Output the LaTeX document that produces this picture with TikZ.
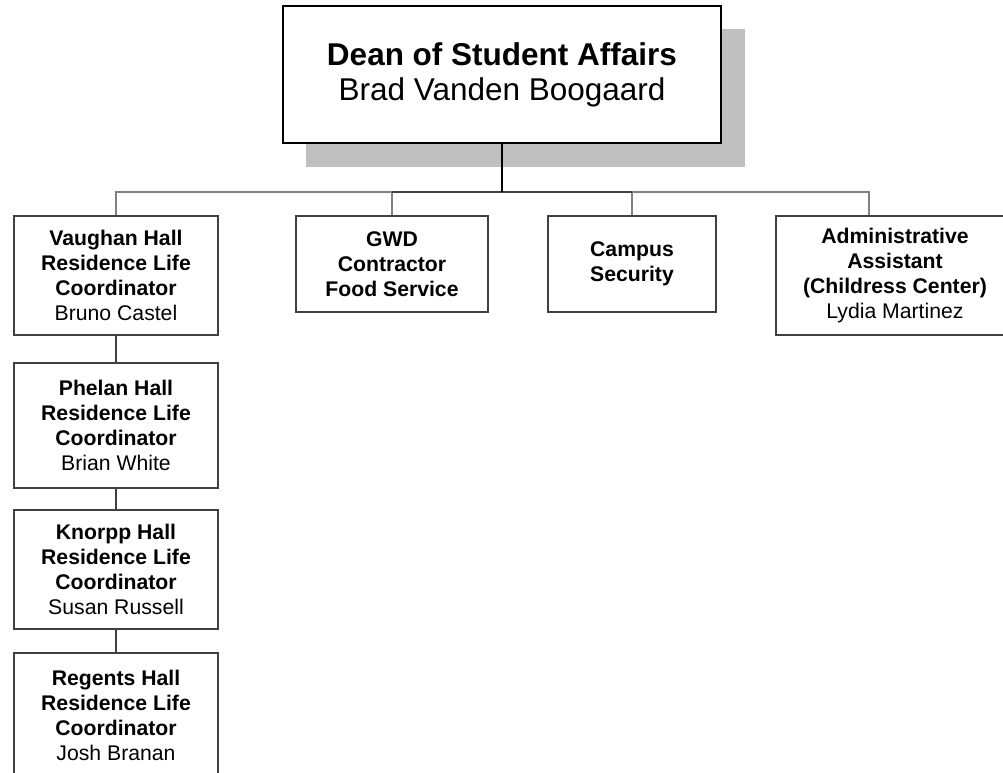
\documentclass[tikz,border=0pt]{standalone}
\usepackage{fontspec}
\setmainfont{Liberation Sans}
\definecolor{shadowgray}{RGB}{192,192,192}
\definecolor{boxline}{RGB}{64,64,64}
\definecolor{busline}{RGB}{128,128,128}
\tikzset{
  orgbox/.style={draw=boxline, line width=1.4pt, fill=white, rectangle, inner sep=0pt, align=center,
    font=\fontsize{21.2}{25}\selectfont},
  deanbox/.style={draw=black, line width=2pt, fill=white, rectangle, inner sep=0pt, align=center,
    font=\fontsize{31.5}{35}\selectfont},
  busconn/.style={draw=busline, line width=1.3pt},
  chainconn/.style={draw=boxline, line width=1.5pt},
  deanconn/.style={draw=black, line width=2pt}
}
\begin{document}
\begin{tikzpicture}[x=1pt,y=-1pt]
\useasboundingbox (0,0) rectangle (1003,772);
\fill[shadowgray] (306,29) rectangle (745,167);
\node[deanbox, minimum width=438pt, minimum height=137pt] (dean) at (502,74.5)
  {\textbf{Dean of Student Affairs}\\Brad Vanden Boogaard};
\node[orgbox, minimum width=204pt, minimum height=119pt] (vaughan) at (116,275.5)
  {\textbf{Vaughan Hall}\\\textbf{Residence Life}\\\textbf{Coordinator}\\Bruno Castel};
\node[orgbox, minimum width=204pt, minimum height=125pt] (phelan) at (116,425.5)
  {\textbf{Phelan Hall}\\\textbf{Residence Life}\\\textbf{Coordinator}\\Brian White};
\node[orgbox, minimum width=204pt, minimum height=119pt] (knorpp) at (116,569.5)
  {\textbf{Knorpp Hall}\\\textbf{Residence Life}\\\textbf{Coordinator}\\Susan Russell};
\node[orgbox, minimum width=204pt, minimum height=124pt] (regents) at (116,715)
  {\textbf{Regents Hall}\\\textbf{Residence Life}\\\textbf{Coordinator}\\Josh Branan};
\node[orgbox, minimum width=192pt, minimum height=96pt] (gwd) at (392,264)
  {\textbf{GWD}\\\textbf{Contractor}\\\textbf{Food Service}};
\node[orgbox, minimum width=168pt, minimum height=96pt] (campus) at (632,264)
  {\textbf{Campus}\\\textbf{Security}};
\node[orgbox, minimum width=238pt, minimum height=119pt] (admin) at (895,275.5)
  {\textbf{Administrative}\\\textbf{Assistant}\\\textbf{(Childress Center)}\\Lydia Martinez};
\coordinate (busL) at (116,192);
\coordinate (busR) at (869,192);
\draw[busconn] (vaughan.north) -- (busL) -- (busR) -- (busR |- admin.north);
\draw[busconn] (gwd.north) -- (gwd.north |- busL);
\draw[busconn] (campus.north) -- (campus.north |- busL);
\draw[chainconn] (gwd.north |- busL) -- (campus.north |- busL);
\draw[deanconn] (dean.south) -- (dean.south |- busL);
\draw[chainconn] (vaughan.south) -- (phelan.north);
\draw[chainconn] (phelan.south) -- (knorpp.north);
\draw[chainconn] (knorpp.south) -- (regents.north);
\end{tikzpicture}
\end{document}
